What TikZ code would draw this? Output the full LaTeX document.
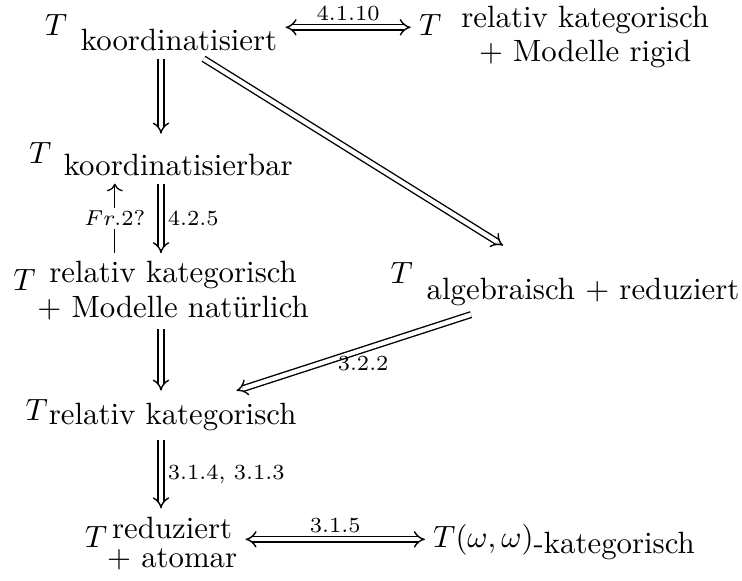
\documentclass[tikz,border=0pt]{standalone}
\usepackage{amsmath}
\usepackage{amssymb}
\usepackage{fontspec}
\usepackage{tikz}
\usetikzlibrary{calc,positioning,arrows.meta}

\newcommand{\Tlab}[3]{$T$\hspace{#1}\raisebox{#2}{#3}}
\newcommand{\zweizeilig}[3]{\vtop{\baselineskip=#1\halign{\hfil##\hfil\cr #2\cr #3\cr}}}

\begin{document}
\begin{tikzpicture}[x=0.3247pt, y=-0.3247pt, stmt/.style={inner sep=2.5pt, anchor=base},
  imp/.style={double, double distance=1.4pt, line width=0.45pt, -{Implies[scale=1.25]}}, lbl/.style={font=\scriptsize, inner sep=2pt},
  >={To}]
  \useasboundingbox (0,0) rectangle (742,580);
  \node[stmt] (koord) at (161,35) {\Tlab{4.5pt}{-4.9pt}{koordinatisiert}};
  \node[stmt] (rigid) at (564,35) {\Tlab{6.5pt}{2.3pt}{\zweizeilig{11pt}{relativ kategorisch}{$+$ Modelle rigid}}};
  \node[stmt] (koordbar) at (161,163) {\Tlab{4pt}{-3.9pt}{koordinatisierbar}};
  \node[stmt] (natur) at (161,290) {\Tlab{0.6pt}{2.3pt}{\zweizeilig{11.3pt}{relativ kategorisch}{$+$ Modelle natürlich}}};
  \node[stmt] (algebra) at (565,283) {\Tlab{4.5pt}{-5.5pt}{algebraisch $+$ reduziert}};
  \node[stmt] (relkat) at (161,420) {\Tlab{0.3pt}{-1.6pt}{relativ kategorisch}};
  \node[stmt] (atomar) at (161,547) {\Tlab{0pt}{2.9pt}{\zweizeilig{9.4pt}{reduziert}{$+$ atomar}}};
  \node[stmt] (omega) at (564,547) {$T(\omega,\omega)$\raisebox{-2pt}{-kategorisch}};
  % Implikationen
  \draw[imp, {Implies[scale=1.25]}-{Implies[scale=1.25]}] ([yshift=2.5pt]koord.base east) -- ([yshift=2.5pt]rigid.base west) node[midway, above, lbl] {4.1.10};
  \draw[imp] (koord) -- (koordbar); \draw[imp, shorten >=5pt] (koord) -- (algebra);
  \draw[imp] (koordbar) -- (natur) node[midway, right, lbl] {4.2.5};
  \draw[->] ([xshift=-15pt]natur.north) -- ([xshift=-15pt]koordbar.south) node[midway, lbl, fill=white, inner sep=1pt] {$Fr.2?$};
  \draw[imp] (natur) -- (relkat); \draw[imp] (algebra) -- (relkat) node[pos=0.46, below, lbl] {3.2.2};
  \draw[imp] (relkat) -- (atomar) node[midway, right, lbl] {3.1.4, 3.1.3};
  \draw[imp, {Implies[scale=1.25]}-{Implies[scale=1.25]}] ([yshift=2.5pt]atomar.base east) -- ([yshift=2.5pt]omega.base west) node[midway, above, lbl] {3.1.5};
\end{tikzpicture}
\end{document}
